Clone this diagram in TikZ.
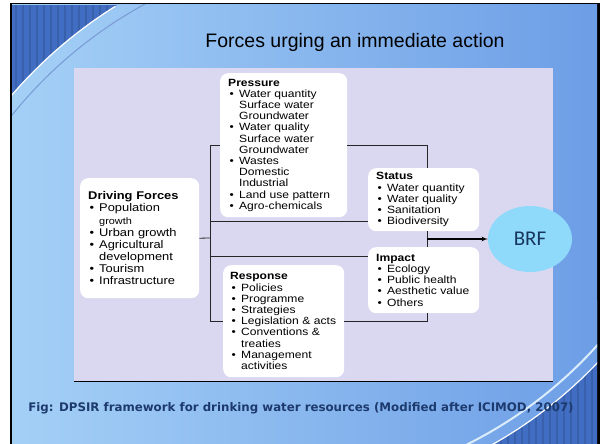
\documentclass[tikz,border=0pt]{standalone}
\usepackage{fontspec}
\setmainfont{Liberation Sans}
\newfontfamily\boxfont[FakeStretch=1.15]{Liberation Sans}
\newfontfamily\capfont{DejaVu Sans}
\newfontfamily\brffont{Carlito}
\usetikzlibrary{shapes.geometric,arrows}
\definecolor{slideleft}{HTML}{A4D0F6}
\definecolor{slideright}{HTML}{6D9EE6}
\definecolor{swirl}{HTML}{416EC2}
\definecolor{panel}{HTML}{DAD8F0}
\definecolor{brfblue}{HTML}{8FD9FB}
\definecolor{brftext}{HTML}{17365D}
\definecolor{captext}{HTML}{1D3A6E}
\tikzstyle{line} = [draw=black!85, line width=0.8pt]
\tikzstyle{arrow} = [draw, line width=1.1pt, -latex']
\tikzstyle{slide} = [left color=slideleft, right color=slideright]
\newcommand{\bul}{\makebox[11pt][l]{\hspace{1.5pt}\textbullet}}
\newcommand{\ind}{\hspace*{11pt}}

\begin{document}
\begin{tikzpicture}
  [x=1pt,y=-1pt,every node/.style={inner sep=0pt}]
  \tikzstyle{box} = [fill=white, rounded corners=8pt, anchor=north west,
    align=left, inner xsep=8pt, font=\boxfont\fontsize{10.5}{11.2}\selectfont]
  \tikzstyle{stripe} = [draw=black, opacity=0.12, line width=2pt]

  % slide background
  \useasboundingbox (0,0) rectangle (600,444);
  \fill[black] (10,3) rectangle (600,444);
  \shade[slide] (12,5) rectangle (597,444);

  % corner swirls
  \begin{scope}
    \clip (12,5) rectangle (200,150);
    \fill[swirl] (12,5) rectangle (200,150);
    \foreach \x in {16,23,...,135} \draw[stripe] (\x,5) -- (\x,150);
    \clip (357,393) circle[radius=456];
    \shade[slide] (12,5) rectangle (597,444);
  \end{scope}
  \begin{scope}
    \clip (400,300) rectangle (597,444);
    \fill[swirl] (400,300) rectangle (597,444);
    \foreach \x in {466,473,...,597} \draw[stripe] (\x,300) -- (\x,444);
    \clip (271.5,52.5) circle[radius=450];
    \shade[slide] (12,5) rectangle (597,444);
  \end{scope}
  \begin{scope}
    \clip (12,5) rectangle (597,444);
    \draw[white, line width=1.2pt] (357,393) ++(238:456) arc[start angle=238, end angle=219, radius=456];
    \draw[swirl!70, line width=1pt] (357,393) ++(242:443) arc[start angle=242, end angle=217, radius=443];
    \draw[white, line width=1.2pt] (271.5,52.5) ++(38:450) arc[start angle=38, end angle=66, radius=450];
    \draw[white!60!slideleft, line width=2pt] (271.5,52.5) ++(36:438) arc[start angle=36, end angle=68, radius=438];
  \end{scope}

  \node (title) at (355,42) {\fontsize{19.5}{22}\selectfont Forces urging an immediate action};

  % diagram panel
  \fill[panel] (74,68) rectangle (553,381);
  \draw[black, line width=1pt] (74,381) -- (553,381);

  \node[box, text width=103pt, minimum width=119pt, minimum height=120pt,
    font=\boxfont\fontsize{11.2}{12.1}\selectfont] (drv) at (80,178) {%
    \textbf{Driving Forces}\\
    \bul Population\\
    \ind{\fontsize{9.5}{12.1}\selectfont growth}\\
    \bul Urban growth\\
    \bul Agricultural\\
    \ind development\\
    \bul Tourism\\
    \bul Infrastructure};

  \node[box, text width=111pt, minimum width=127pt, minimum height=144pt] (pres) at (220,73) {%
    \textbf{Pressure}\\
    \bul Water quantity\\
    \ind Surface water\\
    \ind Groundwater\\
    \bul Water quality\\
    \ind Surface water\\
    \ind Groundwater\\
    \bul Wastes\\
    \ind Domestic\\
    \ind Industrial\\
    \bul Land use pattern\\
    \bul Agro-chemicals};

  \node[box, text width=95pt, minimum width=111pt, minimum height=63pt] (stat) at (368,168) {%
    \textbf{Status}\\
    \bul Water quantity\\
    \bul Water quality\\
    \bul Sanitation\\
    \bul Biodiversity};

  \node[box, text width=95pt, minimum width=111pt, minimum height=66pt] (imp) at (368,247) {%
    \textbf{Impact}\\
    \bul Ecology\\
    \bul Public health\\
    \bul Aesthetic value\\
    \bul Others};

  \node[box, inner xsep=7pt, text width=107pt, minimum width=121pt, minimum height=112pt] (resp) at (223,265) {%
    \textbf{Response}\\
    \bul Policies\\
    \bul Programme\\
    \bul Strategies\\
    \bul Legislation \& acts\\
    \bul Conventions \&\\
    \ind treaties\\
    \bul Management\\
    \ind activities};

  \node[ellipse, fill=brfblue, minimum width=84pt, minimum height=66pt, text=brftext,
    font=\brffont\fontsize{21}{21}\selectfont] (brf) at (530,239) {BRF};

  % connectors
  \coordinate (bus) at (210,238);
  \coordinate (join) at (427,239);
  \coordinate (statin) at ([yshift=10pt]stat.south west);
  \coordinate (impin) at ([yshift=-9pt]imp.north west);

  \path [line] (drv.east) -- (bus);
  \path [line] (bus |- pres.west) -- (bus |- resp.west);
  \path [line] (bus |- pres.west) -- (pres.west);
  \path [line] (bus |- statin) -- (statin);
  \path [line] (bus |- impin) -- (impin);
  \path [line] (bus |- resp.west) -- (resp.west);
  \path [line] (pres.east) -| (join |- stat.north);
  \path [line] (join |- stat.south) -- (join |- imp.north);
  \path [line] (resp.east) -| (join |- imp.south);
  \path [arrow] (join) -- (brf.west);

  \node[text=captext, font=\capfont\bfseries\fontsize{11.8}{13}\selectfont] (caption) at (301,408)
    {Fig: DPSIR framework for drinking water resources (Modified after ICIMOD, 2007)};
\end{tikzpicture}
\end{document}
